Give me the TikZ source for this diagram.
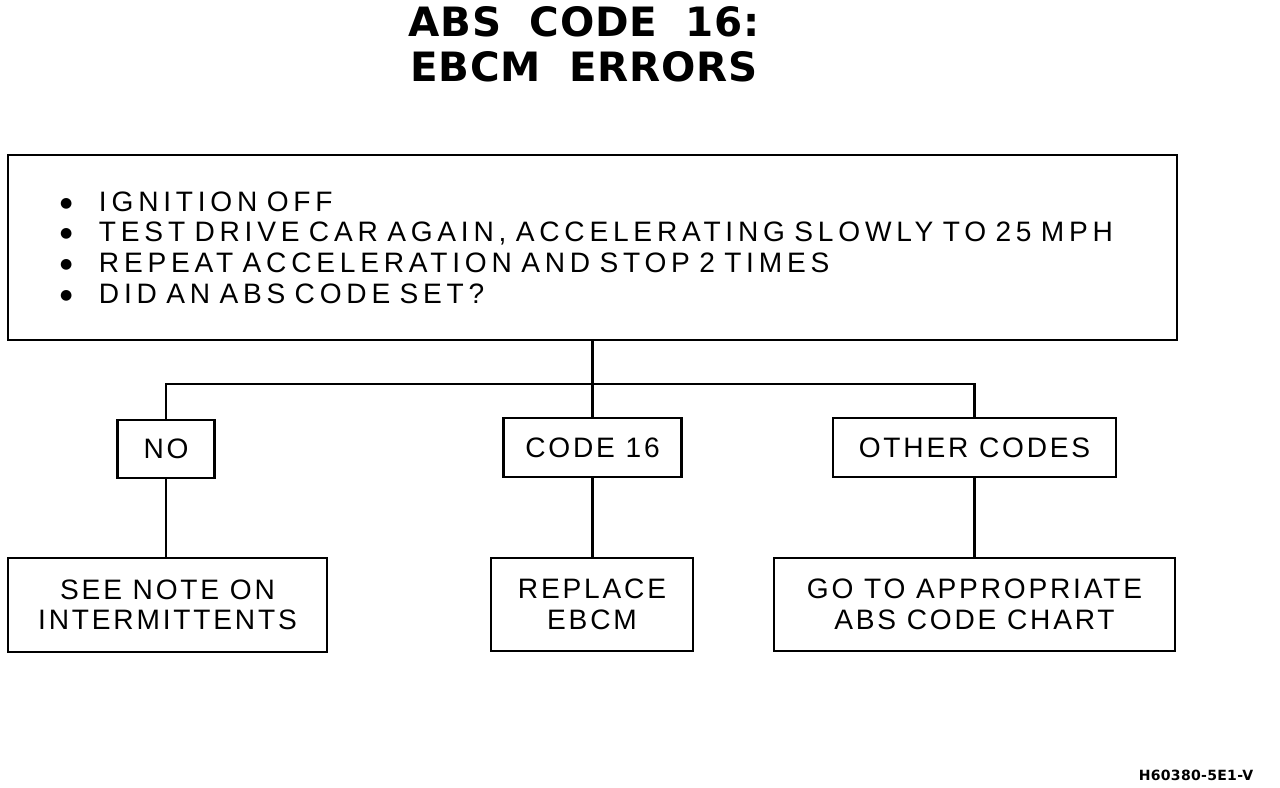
\documentclass[tikz,border=0pt]{standalone}
\usepackage{fontspec}
\setmainfont{Liberation Sans}
\newfontfamily\chartfont{Liberation Sans}[LetterSpace=10]
\newfontfamily\stepfont{Liberation Sans}[LetterSpace=17]
\newfontfamily\headfont{DejaVu Sans}[LetterSpace=2]
\newfontfamily\dotfont{DejaVu Sans}
\newcommand{\titlegaps}{\fontdimen2\font=16pt\relax}
\newcommand{\stepdot}{\makebox[0.78cm][l]{\raisebox{2.2pt}{\dotfont\fontsize{8}{8}\selectfont ●}}}
\usetikzlibrary{positioning}

\begin{document}
\begin{tikzpicture}[
  font=\chartfont\fontsize{16}{17.4}\selectfont,
  chartbox/.style={draw=black, line width=1.6pt, align=center, inner sep=0pt},
  link/.style={line width=1.6pt}
]
\useasboundingbox (0,0) rectangle (25.6,15.76);

\node[font=\headfont\bfseries\fontsize{23}{25.5}\selectfont\titlegaps, align=center] (title) at (11.68,14.88) {ABS CODE 16:\\EBCM ERRORS};

\node[chartbox, minimum width=23.38cm, minimum height=3.7cm, text width=21.3cm, align=left,
      font=\stepfont\fontsize{16}{17.5}\selectfont] (check) at (11.85,10.81)
  {\stepdot IGNITION OFF\\
   \stepdot TEST DRIVE CAR AGAIN, ACCELERATING SLOWLY TO 25 MPH\\
   \stepdot REPEAT ACCELERATION AND STOP 2 TIMES\\
   \stepdot DID AN ABS CODE SET?};

% answers
\node[chartbox, minimum width=1.94cm, minimum height=1.16cm] (no) at (3.32,6.78) {NO};
\node[chartbox, minimum width=3.56cm, minimum height=1.18cm] (code) at (11.85,6.81) {CODE 16};
\node[chartbox, minimum width=5.66cm, minimum height=1.18cm] (other) at (19.49,6.81) {OTHER CODES};

% actions
\node[chartbox, minimum width=6.38cm, minimum height=1.88cm] (note) at (3.35,3.66) {SEE NOTE ON\\INTERMITTENTS};
\node[chartbox, minimum width=4.04cm, minimum height=1.86cm] (replace) at (11.84,3.67) {REPLACE\\EBCM};
\node[chartbox, minimum width=8.02cm, minimum height=1.86cm] (goto) at (19.49,3.67) {GO TO APPROPRIATE\\ABS CODE CHART};

\coordinate (split) at (11.85,8.08);
\draw[link] (check.south) -- (split);
\draw[link] (no.north) |- (split) -| (other.north);
\draw[link] (split) -- (code.north);
\draw[link] (no.south) -- (no.south |- note.north);
\draw[link] (code.south) -- (code.south |- replace.north);
\draw[link] (other.south) -- (goto.north);

\node[font=\headfont\bfseries\fontsize{8}{9}\selectfont] (figid) at (23.92,0.26) {H60380-5E1-V};
\end{tikzpicture}
\end{document}
